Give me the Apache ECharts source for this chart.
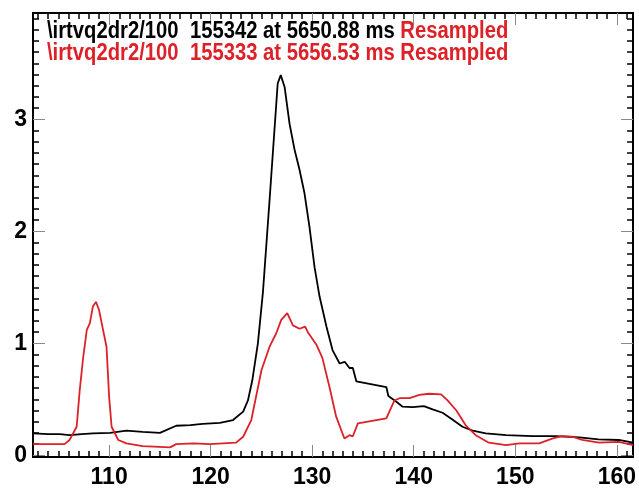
<!DOCTYPE html>
<html>
<head>
<meta charset="utf-8">
<script src="https://cdn.jsdelivr.net/npm/echarts@6/dist/echarts.min.js"></script>
<style>
  html, body { margin: 0; padding: 0; background: #fff; }
  #main { width: 639px; height: 492px; }
</style>
</head>
<body>
<div id="main"></div>
<script>
// values
const blackX = [102.5, 104.0, 105.15, 106.1, 107.3, 108.4, 110.1, 111.7, 113.3, 115.0, 116.6, 118.0, 119.2, 120.9, 122.2, 123.2, 123.67, 124.1, 124.65, 125.14, 125.8, 126.3, 126.6, 126.9, 127.28, 127.77, 128.26, 128.75, 129.24, 129.73, 130.23, 130.72, 131.4, 132.0, 132.7, 133.2, 133.67, 134.0, 134.35, 137.3, 137.5, 138.26, 138.9, 139.9, 141.0, 141.86, 142.84, 143.8, 144.8, 145.8, 147.1, 149.1, 151.7, 154.0, 156.3, 158.2, 160.2, 161.6];
const blackY = [0.196, 0.19, 0.19, 0.18, 0.19, 0.196, 0.20, 0.22, 0.21, 0.20, 0.264, 0.27, 0.28, 0.29, 0.315, 0.39, 0.49, 0.67, 1.0, 1.45, 2.28, 2.93, 3.32, 3.395, 3.29, 2.96, 2.73, 2.55, 2.34, 2.04, 1.68, 1.42, 1.15, 0.94, 0.82, 0.835, 0.78, 0.78, 0.66, 0.61, 0.53, 0.48, 0.434, 0.43, 0.44, 0.41, 0.38, 0.32, 0.255, 0.22, 0.196, 0.18, 0.172, 0.172, 0.16, 0.143, 0.137, 0.113];

const redX = [102.5, 104.0, 105.6, 106.1, 106.8, 107.1, 107.45, 107.8, 108.1, 108.4, 108.7, 109.0, 109.4, 109.74, 110.0, 110.24, 110.9, 111.7, 113.3, 116.0, 116.6, 118.3, 119.9, 122.5, 123.2, 124.0, 124.8, 125.0, 125.8, 126.46, 126.95, 127.54, 128.1, 128.75, 129.3, 129.57, 130.4, 131.0, 131.7, 132.36, 133.17, 133.67, 134.0, 134.5, 137.3, 138.1, 138.6, 139.6, 140.55, 141.5, 142.7, 143.33, 144.2, 145.1, 146.1, 147.4, 149.1, 150.4, 152.35, 153.7, 154.6, 155.6, 156.6, 158.25, 160.2, 161.6];
const redY = [0.10, 0.10, 0.10, 0.137, 0.255, 0.58, 0.88, 1.12, 1.18, 1.33, 1.37, 1.30, 1.12, 0.97, 0.52, 0.255, 0.137, 0.107, 0.083, 0.071, 0.10, 0.107, 0.10, 0.113, 0.166, 0.315, 0.67, 0.76, 0.97, 1.09, 1.21, 1.27, 1.16, 1.13, 1.15, 1.10, 0.99, 0.87, 0.61, 0.345, 0.15, 0.18, 0.17, 0.285, 0.33, 0.49, 0.51, 0.51, 0.54, 0.55, 0.545, 0.49, 0.40, 0.27, 0.18, 0.113, 0.092, 0.107, 0.107, 0.152, 0.172, 0.166, 0.137, 0.113, 0.12, 0.092];

const xTicks = [110, 120, 130, 140, 150, 160];
const xMinorTicks = [103, 104, 105, 106, 107, 108, 109, 111, 112, 113, 114, 115, 116, 117, 118, 119, 121, 122, 123, 124, 125, 126, 127, 128, 129, 131, 132, 133, 134, 135, 136, 137, 138, 139, 141, 142, 143, 144, 145, 146, 147, 148, 149, 151, 152, 153, 154, 155, 156, 157, 158, 159, 161];
const yTicks = [0, 1, 2, 3];
const yMinorTicks = [0.1, 0.2, 0.3, 0.4, 0.5, 0.6, 0.7, 0.8, 0.9, 1.1, 1.2, 1.3, 1.4, 1.5, 1.6, 1.7, 1.8, 1.9, 2.1, 2.2, 2.3, 2.4, 2.5, 2.6, 2.7, 2.8, 2.9, 3.1, 3.2, 3.3, 3.4, 3.5, 3.6, 3.7, 3.8, 3.9];

const legendBlack = '\\irtvq2dr2/100  155342 at 5650.88 ms ';
const legendRed = '\\irtvq2dr2/100  155333 at 5656.53 ms ';

const RED = '#dd2128';
const xMin = 102.5, xMax = 161.6;
const yMin = -0.015, yMax = 3.95;

const chart = echarts.init(document.getElementById('main'));

// one axis per tick set: minor ticks, major ticks + labels, mirrored on top/right
function xAx(pos, ticks, len, color, labels) {
  return {
    type: 'value', position: pos, min: xMin, max: xMax,
    axisLine: { show: true, onZero: false, lineStyle: { color: '#000', width: 2 } },
    axisTick: { show: true, inside: true, length: len, customValues: ticks, lineStyle: { color: color, width: len > 8 ? 1 : 1.5 } },
    axisLabel: labels ? {
      show: true, customValues: xTicks, margin: 9,
      fontFamily: 'Liberation Sans', fontWeight: 'bold', fontSize: 23, color: '#000'
    } : { show: false },
    splitLine: { show: false }
  };
}
function yAx(pos, ticks, len, color, labels) {
  return {
    type: 'value', position: pos, min: yMin, max: yMax,
    axisLine: { show: true, onZero: false, lineStyle: { color: '#000', width: 2 } },
    axisTick: { show: true, inside: true, length: len, customValues: ticks, lineStyle: { color: color, width: len > 8 ? 1 : 1.5 } },
    axisLabel: labels ? {
      show: true, customValues: yTicks, margin: 6, padding: [0, 0, 9, 0],
      formatter: v => String(Math.round(v)),
      fontFamily: 'Liberation Sans', fontWeight: 'bold', fontSize: 23, color: '#000'
    } : { show: false },
    splitLine: { show: false }
  };
}

// condensed bold header lines: squeeze Liberation Sans horizontally
function legendText(y, txt, color) {
  return {
    type: 'text', x: 47, y: y, scaleX: 0.88, z: 100,
    style: {
      text: '{a|' + txt + '}{r|Resampled}',
      font: 'bold 23px "Liberation Sans"',
      verticalAlign: 'bottom',
      rich: {
        a: { fill: color, font: 'bold 23px "Liberation Sans"' },
        r: { fill: RED, font: 'bold 23px "Liberation Sans"' }
      }
    }
  };
}

const option = {
  backgroundColor: '#fff',
  animation: false,
  graphic: [legendText(43, legendBlack, '#000'), legendText(65, legendRed, RED)],
  grid: { left: 33, right: 4, top: 13, bottom: 35 },
  xAxis: [
    xAx('bottom', xMinorTicks, 6, '#000', false),
    xAx('bottom', xTicks, 12, '#888', true),
    xAx('top', xMinorTicks, 6, '#000', false),
    xAx('top', xTicks, 12, '#888', false)
  ],
  yAxis: [
    yAx('left', yMinorTicks, 6, '#000', false),
    yAx('left', yTicks, 12, '#888', true),
    yAx('right', yMinorTicks, 6, '#000', false),
    yAx('right', yTicks, 12, '#888', false)
  ],
  series: [
    {
      name: 'black', type: 'line', showSymbol: false,
      data: blackX.map((x, i) => [x, blackY[i]]),
      lineStyle: { color: '#000', width: 1.8 }
    },
    {
      name: 'red', type: 'line', showSymbol: false,
      data: redX.map((x, i) => [x, redY[i]]),
      lineStyle: { color: RED, width: 1.8 }
    }
  ]
};

chart.setOption(option);
</script>
</body>
</html>
